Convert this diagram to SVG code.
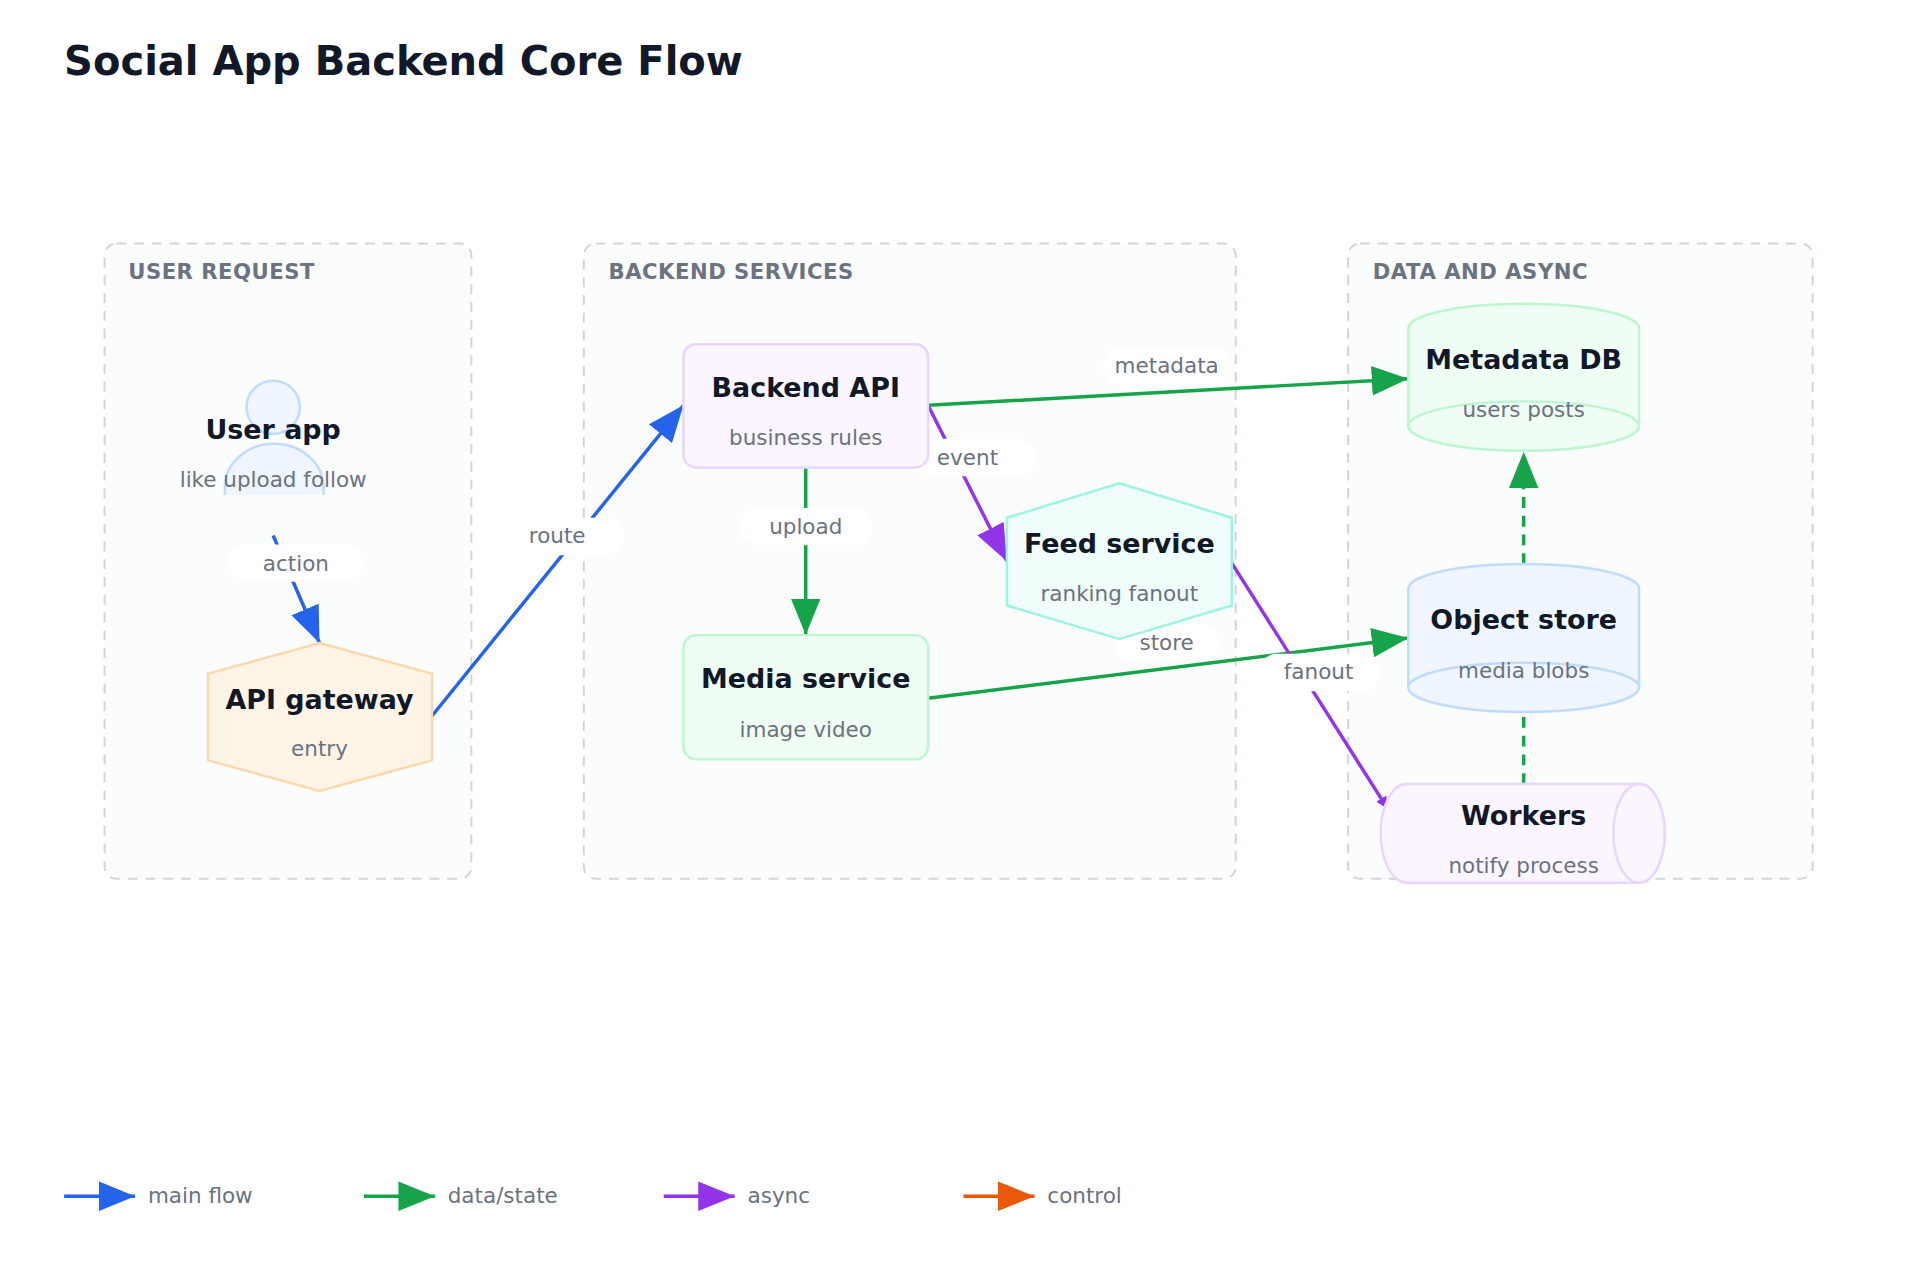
<svg xmlns="http://www.w3.org/2000/svg" width="1920" height="1280" viewBox="0 0 1920 1280">
<defs>
<style>
text{font-family:"DejaVu Sans","Liberation Sans",sans-serif}
.title{font-size:40.6px;font-weight:bold;fill:#111827}
.grp{fill:#fbfcfc;stroke:#d1d5db;stroke-width:2;stroke-dasharray:10 8}
.gl{font-size:21.5px;font-weight:bold;fill:#6b7280;letter-spacing:0.5px}
.nt{font-size:27.3px;font-weight:bold;fill:#111827;text-anchor:middle}
.ns{font-size:21.8px;fill:#6b7280;text-anchor:middle}
.el{font-size:21.8px;fill:#6b7280;text-anchor:middle}
.lb{fill:#ffffff}
.c{fill:none;stroke-width:3.5}
.blue{stroke:#2563eb}.green{stroke:#16a34a}.purple{stroke:#9333ea}.orange{stroke:#ea580c}
.lg{font-size:21.8px;fill:#6b7280}
</style>
<marker id="ab" markerUnits="userSpaceOnUse" markerWidth="40" markerHeight="32" refX="37" refY="15" orient="auto"><path d="M0,0 L37,15 L0,30 z" fill="#2563eb"/></marker>
<marker id="ag" markerUnits="userSpaceOnUse" markerWidth="40" markerHeight="32" refX="37" refY="15" orient="auto"><path d="M0,0 L37,15 L0,30 z" fill="#16a34a"/></marker>
<marker id="ap" markerUnits="userSpaceOnUse" markerWidth="40" markerHeight="32" refX="37" refY="15" orient="auto"><path d="M0,0 L37,15 L0,30 z" fill="#9333ea"/></marker>
<marker id="aps" markerUnits="userSpaceOnUse" markerWidth="14" markerHeight="14" refX="12" refY="6" orient="auto"><path d="M0,0 L12,6 L0,12 z" fill="#9333ea"/></marker>
<marker id="ao" markerUnits="userSpaceOnUse" markerWidth="40" markerHeight="32" refX="37" refY="15" orient="auto"><path d="M0,0 L37,15 L0,30 z" fill="#ea580c"/></marker>
</defs>
<rect width="1920" height="1280" fill="#ffffff"/>
<g transform="scale(0.9862)">
<text class="title" x="65" y="76">Social App Backend Core Flow</text>

<g id="groups">
<rect class="grp" x="106" y="247" width="372" height="644" rx="12"/>
<text class="gl" x="130" y="283">USER REQUEST</text>
<rect class="grp" x="592" y="247" width="661" height="644" rx="12"/>
<text class="gl" x="617" y="283">BACKEND SERVICES</text>
<rect class="grp" x="1367" y="247" width="471" height="644" rx="12"/>
<text class="gl" x="1392" y="283">DATA AND ASYNC</text>
</g>

<g id="connectors">
<line class="c blue" x1="277" y1="543" x2="324" y2="652" marker-end="url(#ab)"/>
<line class="c blue" x1="438" y1="726" x2="693" y2="411" marker-end="url(#ab)"/>
<line class="c green" x1="941" y1="411" x2="1428" y2="384" marker-end="url(#ag)"/>
<line class="c purple" x1="941" y1="411" x2="1021" y2="569" marker-end="url(#ap)"/>
<line class="c green" x1="817" y1="474" x2="817" y2="644" marker-end="url(#ag)"/>
<line class="c green" x1="941" y1="708" x2="1428" y2="647" marker-end="url(#ag)"/>
<line class="c purple" x1="1249" y1="571" x2="1407" y2="820" stroke-width="3" marker-end="url(#aps)"/>
<line class="c green" x1="1545" y1="572" x2="1545" y2="458" stroke-dasharray="11 8" marker-end="url(#ag)"/>
<line class="c green" x1="1545" y1="795" x2="1545" y2="721" stroke-dasharray="11 8"/>
<rect class="lb" x="232" y="552" width="136" height="38" rx="19"/>
<text class="el" x="300" y="579">action</text>
<rect class="lb" x="510" y="525" width="122" height="38" rx="19"/>
<text class="el" x="565" y="551">route</text>
<rect class="lb" x="1118" y="352" width="130" height="38" rx="19"/>
<text class="el" x="1183" y="378">metadata</text>
<rect class="lb" x="930" y="445" width="120" height="38" rx="19"/>
<text class="el" x="981" y="471">event</text>
<rect class="lb" x="750" y="515" width="134" height="38" rx="19"/>
<text class="el" x="817" y="541">upload</text>
<rect class="lb" x="1130" y="633" width="106" height="38" rx="19"/>
<text class="el" x="1183" y="659">store</text>
<rect class="lb" x="1276" y="663" width="122" height="38" rx="19"/>
<text class="el" x="1337" y="689">fanout</text>
</g>

<g id="user-app">
<circle cx="277" cy="413" r="27" fill="#eff6ff" stroke="#bfdbfe" stroke-width="2.5"/>
<path d="M228,502 L228,494 A50,44 0 0 1 328,494 L328,502" fill="#eff6ff" stroke="#bfdbfe" stroke-width="2.5"/>
<text class="nt" x="277" y="445">User app</text>
<text class="ns" x="277" y="494">like upload follow</text>
</g>

<g id="api-gateway">
<polygon points="324,652 438,683 438,771 324,802 211,771 211,683" fill="#fff4e6" stroke="#fed7aa" stroke-width="2.5"/>
<text class="nt" x="324" y="719">API gateway</text>
<text class="ns" x="324" y="767">entry</text>
</g>

<g id="backend-api">
<rect x="693" y="349" width="248" height="125" rx="13" fill="#faf5ff" stroke="#e9d5ff" stroke-width="2.5"/>
<text class="nt" x="817" y="403">Backend API</text>
<text class="ns" x="817" y="451">business rules</text>
</g>

<g id="media-service">
<rect x="693" y="644" width="248" height="126" rx="13" fill="#f0fdf4" stroke="#bbf7d0" stroke-width="2.5"/>
<text class="nt" x="817" y="698">Media service</text>
<text class="ns" x="817" y="747">image video</text>
</g>

<g id="feed-service">
<polygon points="1135,490 1249,525 1249,614 1135,648 1021,614 1021,525" fill="#f0fdfa" stroke="#99f6e4" stroke-width="2.5"/>
<text class="nt" x="1135" y="561">Feed service</text>
<text class="ns" x="1135" y="609">ranking fanout</text>
</g>

<g id="metadata-db">
<path d="M1428,333 A117,25 0 0 1 1662,333 L1662,432 A117,25 0 0 1 1428,432 Z" fill="#f0fdf4" stroke="#bbf7d0" stroke-width="2.5"/>
<path d="M1428,432 A117,25 0 0 1 1662,432" fill="none" stroke="#bbf7d0" stroke-width="2.5"/>
<text class="nt" x="1545" y="374">Metadata DB</text>
<text class="ns" x="1545" y="423">users posts</text>
</g>

<g id="object-store">
<path d="M1428,597 A117,25 0 0 1 1662,597 L1662,697 A117,25 0 0 1 1428,697 Z" fill="#eff6ff" stroke="#bfdbfe" stroke-width="2.5"/>
<path d="M1428,697 A117,25 0 0 1 1662,697" fill="none" stroke="#bfdbfe" stroke-width="2.5"/>
<text class="nt" x="1545" y="638">Object store</text>
<text class="ns" x="1545" y="687">media blobs</text>
</g>

<g id="workers">
<path d="M1426,795 L1662,795 A26,50 0 0 1 1662,895 L1426,895 A26,50 0 0 1 1426,795 Z" fill="#faf5ff" stroke="#e9d5ff" stroke-width="2.5"/>
<ellipse cx="1662" cy="845" rx="26" ry="50" fill="#faf5ff" stroke="#e9d5ff" stroke-width="2.5"/>
<text class="nt" x="1545" y="837">Workers</text>
<text class="ns" x="1545" y="885">notify process</text>
</g>

<g id="legend">
<line class="c blue" x1="65" y1="1213" x2="137" y2="1213" marker-end="url(#ab)"/>
<text class="lg" x="150" y="1220">main flow</text>
<line class="c green" x1="369" y1="1213" x2="441" y2="1213" marker-end="url(#ag)"/>
<text class="lg" x="454" y="1220">data/state</text>
<line class="c purple" x1="673" y1="1213" x2="745" y2="1213" marker-end="url(#ap)"/>
<text class="lg" x="758" y="1220">async</text>
<line class="c orange" x1="977" y1="1213" x2="1049" y2="1213" marker-end="url(#ao)"/>
<text class="lg" x="1062" y="1220">control</text>
</g>
</g>
</svg>
